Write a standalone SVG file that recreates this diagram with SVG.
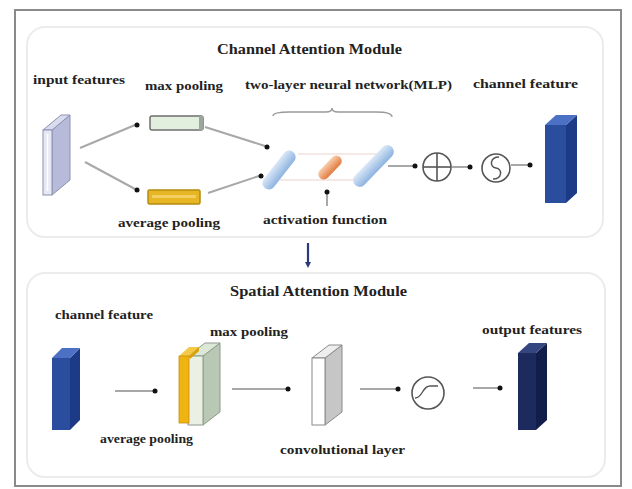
<svg xmlns="http://www.w3.org/2000/svg" width="632" height="489" viewBox="0 0 632 489">
<defs>
<style>
.lbl{font-family:"Liberation Serif","Times New Roman",serif;font-weight:bold;font-size:13px;fill:#222}
.ttl{font-family:"Liberation Serif","Times New Roman",serif;font-weight:bold;font-size:15px;fill:#222}
.con{stroke:#a8a8a8;stroke-width:2;fill:none}
.dot{fill:#111}
.ring{fill:#fff;stroke:#555;stroke-width:1.6}
.panel{fill:#fff;stroke:#ececec;stroke-width:2}
</style>
<linearGradient id="gBlue" x1="0" y1="0" x2="0" y2="1">
<stop offset="0" stop-color="#dbe8f7"/><stop offset="1" stop-color="#8db3e0"/>
</linearGradient>
<linearGradient id="gOr" x1="0" y1="0" x2="0" y2="1">
<stop offset="0" stop-color="#f9cfb0"/><stop offset="1" stop-color="#e27a3c"/>
</linearGradient>
</defs>
<rect x="0" y="0" width="632" height="489" fill="#fff"/>
<rect x="15" y="10" width="606" height="476" fill="#fff" stroke="#8a8a8a" stroke-width="2"/>

<g id="channel-module">
<rect class="panel" x="27" y="27" width="576" height="210" rx="18"/>
<text class="ttl" x="217" y="54" textLength="185" lengthAdjust="spacingAndGlyphs">Channel Attention Module</text>
</g>
<g id="spatial-module">
<rect class="panel" x="27" y="273" width="578" height="204" rx="18"/>
<text class="ttl" x="230" y="296" textLength="177" lengthAdjust="spacingAndGlyphs">Spatial Attention Module</text>
</g>

<g id="connectors">
<line class="con" x1="80" y1="148" x2="135" y2="125"/><circle class="dot" cx="137" cy="125" r="2.5"/>
<line class="con" x1="85" y1="162" x2="135" y2="189"/><circle class="dot" cx="137" cy="190" r="2.5"/>
<line class="con" x1="205" y1="127" x2="265" y2="146"/><circle class="dot" cx="267" cy="147" r="2.5"/>
<line class="con" x1="208" y1="193" x2="259" y2="176"/><circle class="dot" cx="261" cy="176" r="2.5"/>
<line x1="298" y1="154" x2="383" y2="154" stroke="#ecd3cc" stroke-width="1.2"/>
<line x1="280" y1="180" x2="362" y2="180" stroke="#ecd3cc" stroke-width="1.2"/>
<line class="con" x1="327" y1="206" x2="327" y2="194" stroke-width="1.5"/><circle class="dot" cx="327" cy="192" r="2.5"/>
<line class="con" x1="388" y1="166" x2="413" y2="166" stroke-width="1.5"/><circle class="dot" cx="415" cy="166" r="2.5"/>
<line class="con" x1="452" y1="167" x2="468" y2="167" stroke-width="1.5"/><circle class="dot" cx="470" cy="167" r="2.5"/>
<line class="con" x1="511" y1="165" x2="528" y2="165" stroke-width="1.5"/><circle class="dot" cx="530" cy="165" r="2.5"/>
<line x1="308" y1="243" x2="308" y2="263" stroke="#2b3a78" stroke-width="2.2"/>
<path d="M305 262 L311 262 L308 268 Z" fill="#2b3a78"/>
<line class="con" x1="115" y1="391" x2="153" y2="391" stroke-width="1.5"/><circle class="dot" cx="155" cy="391" r="2.5"/>
<line class="con" x1="232" y1="389" x2="286" y2="389" stroke-width="1.5"/><circle class="dot" cx="288" cy="389" r="2.5"/>
<line class="con" x1="360" y1="389" x2="396" y2="389" stroke-width="1.5"/><circle class="dot" cx="398" cy="389" r="2.5"/>
<line class="con" x1="473" y1="388" x2="498" y2="388" stroke-width="1.5"/><circle class="dot" cx="500" cy="388" r="2.5"/>
</g>

<g id="input-features">
<polygon points="52,130 70,115 70,180 52,195" fill="#b7bbd9" stroke="#8d91b0" stroke-width="1"/>
<polygon points="43,130 52,130 70,115 61,115" fill="#d9dcee" stroke="#8d91b0" stroke-width="1"/>
<rect x="43" y="130" width="9" height="65" fill="#e6e8f4" stroke="#8d91b0" stroke-width="1"/>
<line x1="47.5" y1="134" x2="47.5" y2="191" stroke="#fff" stroke-width="1.5"/>
<text class="lbl" x="33" y="84" textLength="92" lengthAdjust="spacingAndGlyphs">input features</text>
</g>

<g id="max-pooling-top">
<rect x="150" y="116" width="53" height="14" rx="2" fill="#e2efdf" stroke="#6f6f6f" stroke-width="1.5"/>
<rect x="199" y="116" width="4" height="14" fill="#9aa79a"/>
<text class="lbl" x="145" y="90" textLength="78" lengthAdjust="spacingAndGlyphs">max pooling</text>
</g>

<g id="average-pooling-top">
<rect x="148" y="190" width="52" height="14" rx="1.5" fill="#e6b624" stroke="#b58b12" stroke-width="1.5"/>
<rect x="152" y="195" width="44" height="3" fill="#f3cf62"/>
<text class="lbl" x="118" y="227" textLength="102" lengthAdjust="spacingAndGlyphs">average pooling</text>
</g>

<g id="mlp">
<path d="M273 116 Q273 112 290 112 L326 112 Q332 112 332 108 Q332 112 338 112 L376 112 Q392 112 392 117" fill="none" stroke="#9a9a9a" stroke-width="1.4"/>
<rect x="256" y="163.5" width="46" height="13" rx="6.5" fill="url(#gBlue)" transform="rotate(-52 279 170)"/>
<rect x="315.5" y="162" width="29" height="11" rx="5.5" fill="url(#gOr)" transform="rotate(-46 330 167.5)"/>
<rect x="347" y="159.5" width="53" height="13" rx="6.5" fill="url(#gBlue)" transform="rotate(-46 373.5 166)"/>
<text class="lbl" x="245" y="89" textLength="207" lengthAdjust="spacingAndGlyphs">two-layer neural network(MLP)</text>
<text class="lbl" x="263" y="224" textLength="124" lengthAdjust="spacingAndGlyphs">activation function</text>
</g>

<g id="add-op">
<circle class="ring" cx="437" cy="167" r="14"/>
<line x1="423" y1="167" x2="451" y2="167" stroke="#555" stroke-width="1.6"/>
<line x1="437" y1="153" x2="437" y2="181" stroke="#555" stroke-width="1.6"/>
</g>

<g id="sigmoid-top">
<circle class="ring" cx="496" cy="168" r="14"/>
<path d="M499 157 C490 157 489 167 496 168 C503 169 502 179 493 179" fill="none" stroke="#555" stroke-width="1.5"/>
</g>

<g id="channel-feature-top">
<polygon points="566,125 577,115 577,193 566,203" fill="#1c3a85"/>
<polygon points="545,125 556,115 577,115 566,125" fill="#4c70c4"/>
<rect x="545" y="125" width="21" height="78" fill="#2a4d9e"/>
<text class="lbl" x="473" y="88" textLength="105" lengthAdjust="spacingAndGlyphs">channel feature</text>
</g>

<g id="channel-feature-bottom">
<polygon points="70,358 80,348 80,420 70,430" fill="#1c3a85"/>
<polygon points="52,358 62,348 80,348 70,358" fill="#4c70c4"/>
<rect x="52" y="358" width="18" height="72" fill="#2a4d9e"/>
<text class="lbl" x="55" y="319" textLength="98" lengthAdjust="spacingAndGlyphs">channel feature</text>
</g>

<g id="pooling-stack">
<polygon points="203,356 220,343 220,412 203,425" fill="#b9c8b4" stroke="#8e9b8a" stroke-width="1"/>
<polygon points="188,356 205,343 220,343 203,356" fill="#dce8d6" stroke="#8e9b8a" stroke-width="1"/>
<rect x="188" y="356" width="15" height="69" fill="#eaf1e4" stroke="#8e9b8a" stroke-width="1"/>
<polygon points="179,356 189,347 199,347 189,356" fill="#f4c94a"/>
<polygon points="189,356 199,347 199,351 190,359" fill="#d9a20a"/>
<rect x="179" y="356" width="10" height="67" fill="#f0b412" stroke="#c8900a" stroke-width="0.8"/>
<text class="lbl" x="210" y="336" textLength="78" lengthAdjust="spacingAndGlyphs">max pooling</text>
<text class="lbl" x="100" y="443" textLength="93" lengthAdjust="spacingAndGlyphs">average pooling</text>
</g>

<g id="conv-layer">
<polygon points="325,358 342,345 342,412 325,425" fill="#c6c6c6" stroke="#8a8a8a" stroke-width="1"/>
<polygon points="312,358 329,345 342,345 325,358" fill="#eeeeee" stroke="#8a8a8a" stroke-width="1"/>
<rect x="312" y="358" width="13" height="67" fill="#fff" stroke="#8a8a8a" stroke-width="1"/>
<text class="lbl" x="280" y="454" textLength="125" lengthAdjust="spacingAndGlyphs">convolutional layer</text>
</g>

<g id="sigmoid-bottom">
<circle class="ring" cx="428" cy="393" r="16"/>
<path d="M415 398 C423 398 422 386 430 386 H438" fill="none" stroke="#555" stroke-width="1.4"/>
</g>

<g id="output-features">
<polygon points="536,353 547,343 547,420 536,430" fill="#121e4a"/>
<polygon points="518,353 529,343 547,343 536,353" fill="#34457f"/>
<rect x="518" y="353" width="18" height="77" fill="#1c2a5e"/>
<text class="lbl" x="482" y="334" textLength="100" lengthAdjust="spacingAndGlyphs">output features</text>
</g>
</svg>
